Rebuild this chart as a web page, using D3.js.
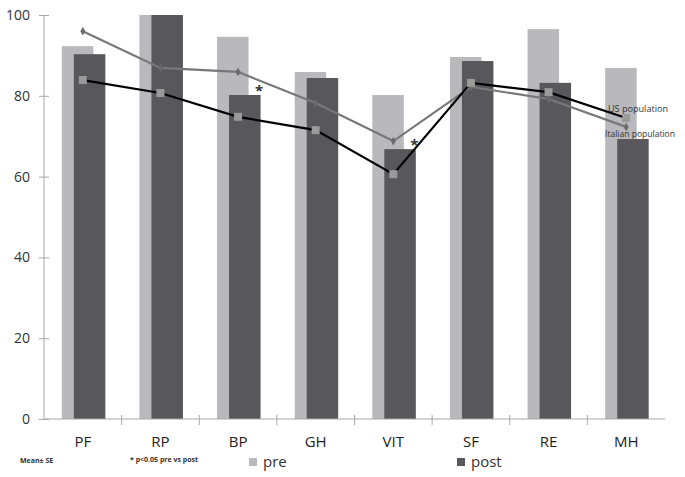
<!DOCTYPE html>
<html>
<head>
<meta charset="utf-8">
<script src="https://cdn.jsdelivr.net/npm/d3@7/dist/d3.min.js"></script>
<style>
html,body{margin:0;padding:0;background:#fff;}
svg{display:block;}
text{font-family:"Open Sans","DejaVu Sans",sans-serif;}
</style>
</head>
<body>
<svg id="chart" width="685" height="477"></svg>
<script>
const categories = ["PF","RP","BP","GH","VIT","SF","RE","MH"];
const preValues  = [92.3, 100, 94.6, 85.9, 80.2, 89.6, 96.5, 86.9];
const postValues = [90.3, 100, 80.2, 84.4, 66.8, 88.6, 83.2, 69.3];
const usPopulation      = [83.9, 80.7, 74.8, 71.5, 60.6, 83.2, 80.9, 74.5];
const italianPopulation = [96.0, 86.9, 85.9, 78.2, 68.8, 82.2, 79.2, 72.3];
const significant = ["BP","VIT"];
const yTicks = [0,20,40,60,80,100];

const svg = d3.select("#chart");
const mLeft = 44, mRight = 665, mTop = 15, mBottom = 419;

const x = d3.scaleBand().domain(categories).range([mLeft, mRight]).paddingInner(0).paddingOuter(0);
const y = d3.scaleLinear().domain([0,100]).range([mBottom, mTop]);

const barW = 31.5;
const preColor = "#b9b9bd", postColor = "#58585c";
const cx = c => x(c) + x.bandwidth()/2;

// bars
svg.append("g").selectAll("rect").data(categories).join("rect")
  .attr("x", c => cx(c) - 21)
  .attr("y", (c,i) => y(preValues[i]))
  .attr("width", barW)
  .attr("height", (c,i) => y(0) - y(preValues[i]))
  .attr("fill", preColor);
svg.append("g").selectAll("rect").data(categories).join("rect")
  .attr("x", c => cx(c) - 9)
  .attr("y", (c,i) => y(postValues[i]))
  .attr("width", barW)
  .attr("height", (c,i) => y(0) - y(postValues[i]))
  .attr("fill", postColor);

// axes
const axisColor = "#a8a8a8";
const yAxis = svg.append("g").attr("transform", `translate(${mLeft},0)`)
  .call(d3.axisLeft(y).tickValues(yTicks).tickSize(0).tickPadding(14));
yAxis.select(".domain").attr("stroke", axisColor).attr("d", `M0,${mBottom}V${mTop}`);
yAxis.selectAll("text").attr("font-size", 14).attr("fill", "#333")
  .attr("font-family", "'Open Sans', sans-serif");
yAxis.selectAll(".tick").append("line").attr("x1", -5).attr("x2", 5).attr("stroke", axisColor);

const xAxis = svg.append("g").attr("transform", `translate(0,${mBottom})`)
  .call(d3.axisBottom(x).tickSize(0).tickPadding(17));
xAxis.select(".domain").attr("stroke", axisColor).attr("d", `M${mLeft},0H${mRight}`);
xAxis.selectAll("text").attr("font-size", 15).attr("fill", "#222")
  .attr("font-family", "'Open Sans', sans-serif");
// category boundary ticks
svg.append("g").selectAll("line").data(categories.slice(1)).join("line")
  .attr("x1", c => x(c)).attr("x2", c => x(c))
  .attr("y1", mBottom - 4).attr("y2", mBottom + 6)
  .attr("stroke", axisColor);

// lines
const lineGen = arr => d3.line().x((d,i) => cx(categories[i])).y(d => y(d))(arr);
svg.append("path").attr("d", lineGen(italianPopulation))
  .attr("fill","none").attr("stroke","#777").attr("stroke-width",2.2);
svg.append("g").selectAll("path").data(italianPopulation).join("path")
  .attr("d", d3.symbol().type(d3.symbolDiamond).size(22))
  .attr("transform", (d,i) => `translate(${cx(categories[i])},${y(d)})`)
  .attr("fill","#6a6a6a");

svg.append("path").attr("d", lineGen(usPopulation))
  .attr("fill","none").attr("stroke","#000").attr("stroke-width",2.2);
svg.append("g").selectAll("rect").data(usPopulation).join("rect")
  .attr("x", (d,i) => cx(categories[i]) - 4)
  .attr("y", d => y(d) - 4)
  .attr("width", 8).attr("height", 8)
  .attr("fill","#9a9a9a");

// series labels
svg.append("text").attr("x", 608).attr("y", 112).text("US population")
  .attr("font-size", 9).attr("fill","#333").attr("font-family","'DejaVu Sans Condensed','DejaVu Sans',sans-serif")
  .attr("textLength", 60).attr("lengthAdjust","spacingAndGlyphs");
svg.append("text").attr("x", 605).attr("y", 137).text("Italian population")
  .attr("font-size", 9).attr("fill","#333").attr("font-family","'DejaVu Sans Condensed','DejaVu Sans',sans-serif")
  .attr("textLength", 70).attr("lengthAdjust","spacingAndGlyphs");

// significance markers
svg.append("g").selectAll("text").data(significant).join("text")
  .attr("x", c => cx(c) + 21)
  .attr("y", c => y(postValues[categories.indexOf(c)]) + 1)
  .attr("text-anchor","middle")
  .attr("font-size", 15).attr("font-weight","bold").attr("fill","#333")
  .text("*");

// footnotes
svg.append("text").attr("x", 20).attr("y", 463).text("Mean± SE")
  .attr("font-size", 7).attr("font-weight","bold").attr("fill","#333")
  .attr("font-family","'DejaVu Sans Condensed',sans-serif");
svg.append("text").attr("x", 130).attr("y", 462).text("* p<0.05 pre vs post")
  .attr("font-size", 7).attr("font-weight","bold").attr("fill","#333")
  .attr("font-family","'DejaVu Sans Condensed',sans-serif");

// legend
const legend = [{name:"pre", color:preColor, x:249}, {name:"post", color:postColor, x:457}];
const lg = svg.append("g").selectAll("g").data(legend).join("g")
  .attr("transform", d => `translate(${d.x},458)`);
lg.append("rect").attr("width", 8).attr("height", 8).attr("fill", d => d.color);
lg.append("text").attr("x", 14).attr("y", 9).text(d => d.name)
  .attr("font-size", 15).attr("fill","#333").attr("font-family","'Open Sans',sans-serif");
</script>
</body>
</html>
